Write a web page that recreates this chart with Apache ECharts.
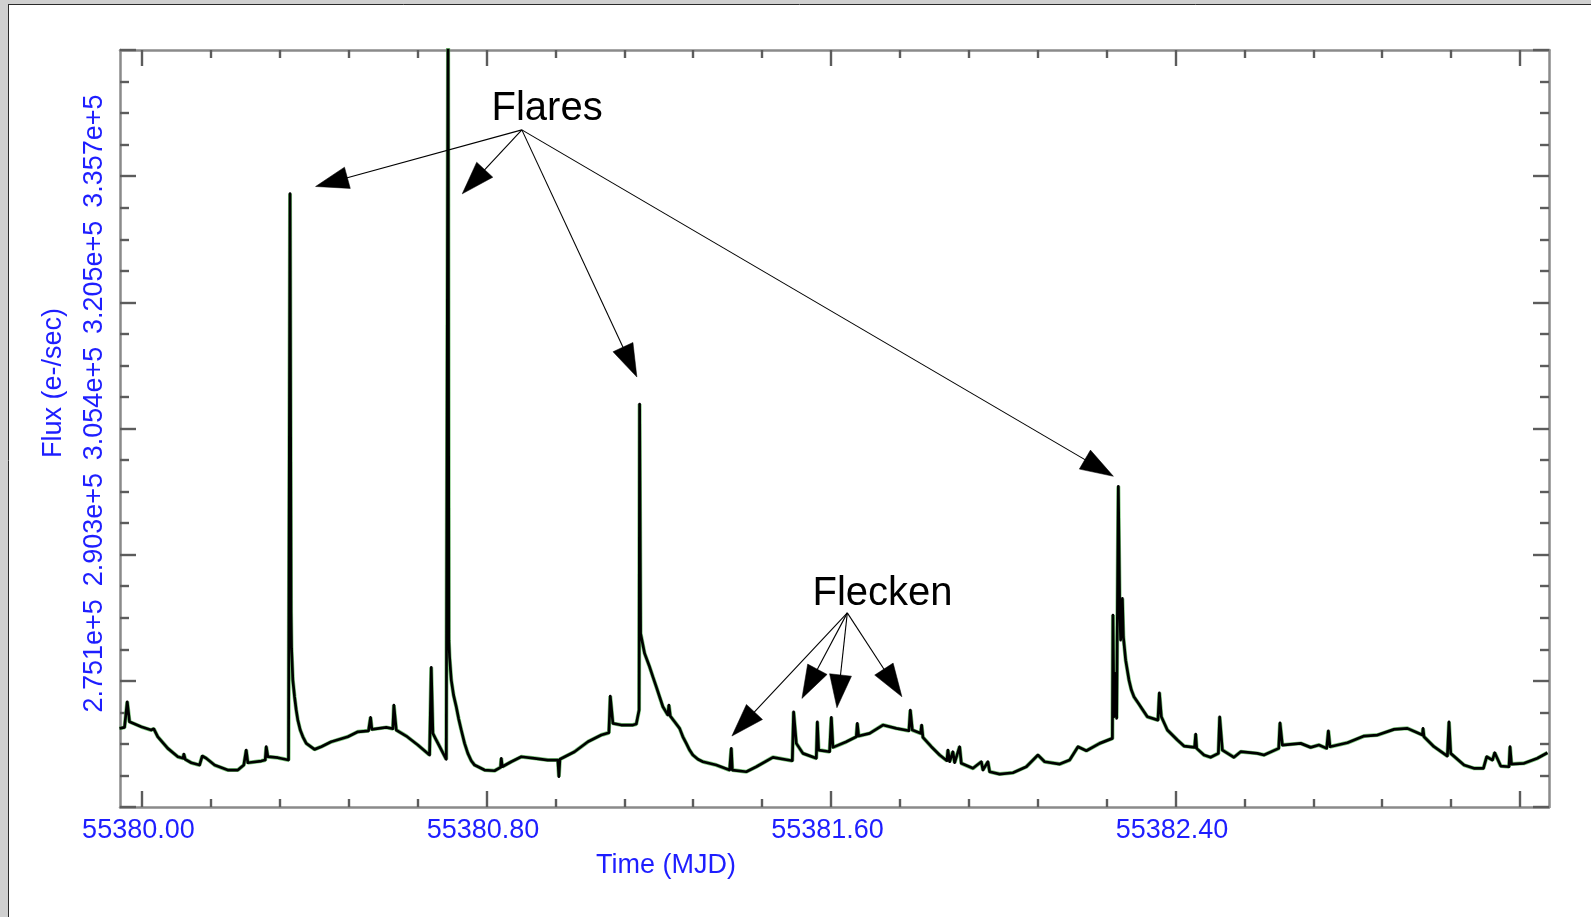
<!DOCTYPE html>
<html>
<head>
<meta charset="utf-8">
<script src="https://cdn.jsdelivr.net/npm/echarts@6/dist/echarts.min.js"></script>
<style>
html,body{margin:0;padding:0;background:#ffffff;}
#chart{width:1591px;height:917px;}
</style>
</head>
<body>
<div id="chart"></div>
<script>
// ---- data ----
const time = [
55379.9480,55379.9596,55379.9659,55379.9712,55379.9984,55380.0216,55380.0276,55380.0369,55380.0601,55380.0834,
55380.0959,55380.0973,55380.1006,55380.1145,55380.1338,55380.1400,55380.1493,55380.1686,55380.1995,55380.2227,
55380.2366,55380.2422,55380.2459,55380.2770,55380.2863,55380.2887,55380.2924,55380.3156,55380.3404,55380.3428,
55380.3439,55380.3463,55380.3474,55380.3504,55380.3544,55380.3583,55380.3620,55380.3676,55380.3737,55380.3816,
55380.3853,55380.4008,55380.4164,55380.4396,
55380.4782,55380.5014,55380.5262,55380.5309,55380.5339,55380.5673,55380.5827,55380.5850,55380.5906,55380.6138,
55380.6407,55380.6679,55380.6718,55380.6756,55380.6835,55380.7067,55380.7097,55380.7109,55380.7127,55380.7143,
55380.7183,55380.7236,55380.7299,55380.7352,55380.7415,55380.7492,55380.7568,55380.7647,55380.7724,55380.7956,
55380.8188,55380.8328,55380.8344,55380.8367,
55380.8576,55380.8809,55380.9117,55380.9426,55380.9658,55380.9682,55380.9705,55381.0046,55381.0355,55381.0666,
55381.0843,55381.0875,55381.0936,55381.1131,55381.1400,55381.1479,55381.1544,55381.1556,55381.1579,55381.1672,
55381.1788,55381.1865,55381.1944,55381.2020,55381.2097,55381.2213,55381.2236,55381.2269,55381.2369,55381.2485,
55381.2561,55381.2640,55381.2717,55381.2793,55381.2910,55381.3026,
55381.3337,55381.3646,55381.3685,55381.3709,55381.4034,55381.4266,55381.4651,55381.5102,55381.5132,55381.5195,
55381.5348,55381.5659,55381.5683,55381.5713,55381.5968,55381.6008,55381.6045,55381.6356,55381.6588,55381.6611,
55381.6642,55381.6897,55381.7206,55381.7517,55381.7810,55381.7842,55381.7889,55381.8082,55381.8105,55381.8135,
55381.8330,55381.8523,55381.8692,55381.8715,55381.8755,55381.8831,55381.8871,55381.8987,55381.9026,55381.9296,
55381.9491,55381.9528,55381.9644,55381.9684,55381.9916,55382.0225,55382.0536,55382.0805,55382.0961,55382.1310,
55382.1542,55382.1735,55382.1930,55382.2239,55382.2534,55382.2547,55382.2571,55382.2610,55382.2633,55382.2672,
55382.2703,55382.2726,55382.2766,55382.2789,55382.2842,55382.2919,55382.2975,55382.3035,55382.3114,55382.3191,
55382.3346,55382.3592,
55382.3625,55382.3671,55382.3810,55382.4043,55382.4196,55382.4444,55382.4468,55382.4491,55382.4660,55382.4816,
55382.4995,55382.5025,55382.5088,55382.5357,55382.5513,55382.5901,55382.6054,55382.6396,55382.6426,55382.6481,
55382.6906,55382.7138,55382.7331,55382.7510,55382.7549,55382.7586,55382.7991,55382.8376,55382.8688,55382.9073,
55382.9384,55382.9617,55382.9733,55382.9747,55382.9770,55383.0002,55383.0313,55383.0350,55383.0390,55383.0698,
55383.0930,55383.1149,55383.1226,55383.1359,55383.1412,55383.1551,55383.1744,55383.1767,55383.1800,55383.2092,
55383.2403,55383.2636
];
const flux = [
269440,269560,272630,270230,269630,269240,269390,268430,267040,266040,
265850,266360,265730,265320,265040,266120,265850,265040,264440,264440,
265040,266840,265320,265520,265640,267240,266040,265920,265640,265520,
333580,283380,279060,275230,273230,271630,270430,269240,268430,267640,
267440,266920,267240,267830,
268430,269030,269150,270760,269320,269560,269390,272230,269240,268520,
267440,266240,276750,268840,268040,265730,265640,356000,280020,278020,
275230,273430,272030,270640,269240,267640,266440,265560,265040,264440,
264360,264770,265850,264840,
265440,266040,265850,265640,265640,263640,265730,266640,267830,268640,
268910,273310,270040,269840,269840,269960,271630,308330,280820,278430,
276820,275620,274420,273230,272030,271030,272230,270910,270230,269440,
268430,267640,266840,266240,265730,265440,
265040,264440,267040,264440,264240,264840,265970,265560,271430,267640,
266440,265850,270230,266840,266640,270760,267160,267830,268430,270040,
268520,268840,269840,269440,269150,271630,269240,268840,269840,268360,
267240,266240,265560,266840,265440,266640,265320,267240,265250,264650,
265440,264440,265440,264240,263960,264120,264840,266240,265440,265160,
265640,267240,266760,267640,268240,283020,270830,276030,270640,298470,
284420,280020,285020,280420,277620,275230,274030,273230,272630,272030,
270830,270430,
273710,270830,269240,268040,267320,267160,268760,267040,266240,265970,
266440,270830,266840,265970,266640,266440,266240,267040,270110,267440,
267640,267160,267440,267040,269150,267240,267710,268520,268640,269320,
269440,268910,268640,269440,268430,267240,266120,270230,266440,265040,
264650,264650,266040,265640,266520,264920,264840,267240,265160,265250,
265850,266520
];

// ---- axes ticks and labels ----
const xTickValues = [55380.0, 55380.8, 55381.6, 55382.4];
const xTickLabels = ['55380.00', '55380.80', '55381.60', '55382.40'];
const xMajorTicks = [55380.0, 55380.8, 55381.6, 55382.4, 55383.2];
const xMinorTicks = [55380.16, 55380.32, 55380.48, 55380.64, 55380.96, 55381.12, 55381.28, 55381.44,
                     55381.76, 55381.92, 55382.08, 55382.24, 55382.56, 55382.72, 55382.88, 55383.04];
const yTickValues = [275140, 290270, 305400, 320530, 335660];
const yTickLabels = ['2.751e+5', '2.903e+5', '3.054e+5', '3.205e+5', '3.357e+5'];

// ---- annotations (data coordinates) ----
const flaresText = 'Flares';
const flaresTextAt = [55380.9408, 343740];
const flaresOrigin = [55380.8822, 341210];
const flaresTargets = [[55380.4032, 334420], [55380.7438, 333540], [55381.1493, 311570], [55382.2557, 299670]];
const fleckenText = 'Flecken';
const fleckenTextAt = [55381.7196, 285590];
const fleckenOrigin = [55381.6379, 283290];
const fleckenTargets = [[55381.3699, 268520], [55381.5325, 273030], [55381.6138, 271910], [55381.7647, 273230]];

// ---- styling ----
const X_MIN = 55379.9491, X_MAX = 55383.2672;
const Y_MIN = 260010, Y_MAX = 350790, Y_STEP = 15130;
const FONT = '"Liberation Sans", Arial, Helvetica, sans-serif';
const BLUE = '#1e1eff';
const AXIS_GRAY = '#8a8a8a';
const TICK_GRAY = '#5c5c5c';

const series = time.map((t, i) => [t, flux[i]]);

function findLabel(values, labels, v) {
  const i = values.findIndex(x => Math.abs(x - v) < 1e-6 * Math.max(1, Math.abs(x)));
  return i >= 0 ? labels[i] : '';
}

function xAxisDef(position, ticks, len, withLine, withLabels) {
  return {
    type: 'value', position: position, min: X_MIN, max: X_MAX, gridIndex: 0,
    splitLine: {show: false},
    axisLine: {show: withLine, onZero: false, lineStyle: {color: AXIS_GRAY, width: 2.5}},
    axisTick: {show: true, inside: true, length: len, customValues: ticks,
               lineStyle: {color: TICK_GRAY, width: 2.4}},
    axisLabel: withLabels ? {
      show: true, customValues: xTickValues, margin: 10,
      color: BLUE, fontSize: 27, fontFamily: FONT, padding: [0, 7, 0, 0],
      formatter: v => findLabel(xTickValues, xTickLabels, v)
    } : {show: false},
    name: withLabels ? 'Time (MJD)' : '',
    nameLocation: 'middle', nameGap: 45,
    nameTextStyle: {color: BLUE, fontSize: 27, fontFamily: FONT, padding: [0, 337, 0, 0]}
  };
}

function yAxisDef(position, withLabels) {
  return {
    type: 'value', position: position, min: Y_MIN, max: Y_MAX, interval: Y_STEP, gridIndex: 0,
    splitLine: {show: false},
    axisLine: {show: true, onZero: false, lineStyle: {color: AXIS_GRAY, width: 2.5}},
    axisTick: {show: true, inside: true, length: 16, lineStyle: {color: TICK_GRAY, width: 2.4}},
    minorTick: {show: true, splitNumber: 4, length: 9, lineStyle: {color: TICK_GRAY, width: 2.4}},
    minorSplitLine: {show: false},
    axisLabel: withLabels ? {
      show: true, customValues: yTickValues, rotate: 90, margin: 12,
      color: BLUE, fontSize: 27, fontFamily: FONT, padding: [0, 0, 0, 50],
      formatter: v => findLabel(yTickValues, yTickLabels, v)
    } : {show: false},
    name: withLabels ? 'Flux (e-/sec)' : '',
    nameLocation: 'middle', nameGap: 53, nameRotate: 90,
    nameTextStyle: {color: BLUE, fontSize: 27, fontFamily: FONT, padding: [0, 0, 0, 91]}
  };
}

const chart = echarts.init(document.getElementById('chart'), null, {renderer: 'canvas'});
chart.setOption({
  animation: false,
  backgroundColor: '#ffffff',
  grid: {left: 120, top: 50, right: 42, bottom: 110, containLabel: false},
  xAxis: [
    xAxisDef('bottom', xMajorTicks, 16, true, true),
    xAxisDef('bottom', xMinorTicks, 8, false, false),
    xAxisDef('top', xMajorTicks, 16, true, false),
    xAxisDef('top', xMinorTicks, 8, false, false)
  ],
  yAxis: [
    yAxisDef('left', true),
    yAxisDef('right', false)
  ],
  series: [
    {
      type: 'line', name: 'flux-halo', xAxisIndex: 0, yAxisIndex: 0, data: series,
      showSymbol: false, symbol: 'none', clip: true, silent: true, z: 2,
      lineStyle: {color: '#5cb85c', width: 4, opacity: 0.8}
    },
    {
      type: 'line', name: 'flux', xAxisIndex: 0, yAxisIndex: 0, data: series,
      showSymbol: false, symbol: 'none', clip: true, z: 3,
      lineStyle: {color: '#000000', width: 2.7, join: 'round'}
    }
  ]
});

// ---- annotations and frame (positioned from data coordinates) ----
function px(p) { return chart.convertToPixel({xAxisIndex: 0, yAxisIndex: 0}, p); }

function arrow(origin, target) {
  const o = px(origin), t = px(target);
  const dx = t[0] - o[0], dy = t[1] - o[1];
  const d = Math.sqrt(dx * dx + dy * dy);
  const ux = dx / d, uy = dy / d;
  const L = 33, W = 11;
  const bx = t[0] - ux * L, by = t[1] - uy * L;
  const nx = -uy, ny = ux;
  return [
    {type: 'line', z: 20, silent: true,
     shape: {x1: o[0], y1: o[1], x2: bx + ux * 2, y2: by + uy * 2},
     style: {stroke: '#000', lineWidth: 1.1}},
    {type: 'polygon', z: 20, silent: true,
     shape: {points: [[t[0], t[1]], [bx + nx * W, by + ny * W], [bx - nx * W, by - ny * W]]},
     style: {fill: '#000', stroke: '#000', lineWidth: 0.5}}
  ];
}

const g = [];
// light grey window edge at left and top
g.push({type: 'rect', z: 30, silent: true, shape: {x: 0, y: 0, width: 8, height: 917}, style: {fill: '#d0d0d0'}});
g.push({type: 'rect', z: 30, silent: true, shape: {x: 0, y: 0, width: 1591, height: 4}, style: {fill: '#d0d0d0'}});
g.push({type: 'line', z: 31, silent: true, shape: {x1: 8.5, y1: 4, x2: 8.5, y2: 917}, style: {stroke: '#2a2a2a', lineWidth: 1}});
g.push({type: 'line', z: 31, silent: true, shape: {x1: 8, y1: 4.5, x2: 1591, y2: 4.5}, style: {stroke: '#2a2a2a', lineWidth: 1}});

flaresTargets.forEach(tg => arrow(flaresOrigin, tg).forEach(e => g.push(e)));
fleckenTargets.forEach(tg => arrow(fleckenOrigin, tg).forEach(e => g.push(e)));

const fp = px(flaresTextAt), kp = px(fleckenTextAt);
g.push({type: 'text', z: 21, silent: true, x: fp[0], y: fp[1],
        style: {text: flaresText, fill: '#000', font: '40px ' + FONT, align: 'center', verticalAlign: 'middle'}});
g.push({type: 'text', z: 21, silent: true, x: kp[0], y: kp[1],
        style: {text: fleckenText, fill: '#000', font: '40px ' + FONT, align: 'center', verticalAlign: 'middle'}});

chart.setOption({graphic: {elements: g}});
</script>
</body>
</html>
